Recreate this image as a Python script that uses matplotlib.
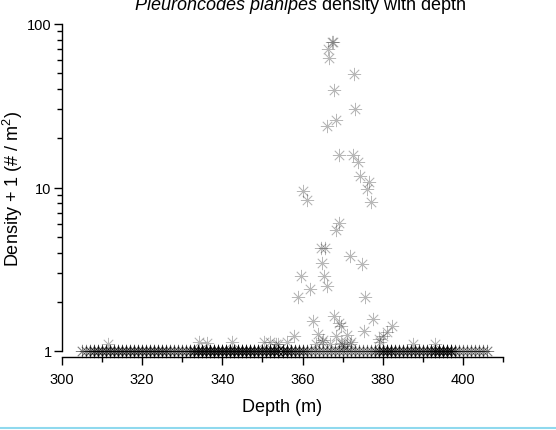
import numpy as np
import matplotlib
matplotlib.use("Agg")
import matplotlib.pyplot as plt
from matplotlib.ticker import MultipleLocator, LogLocator, FixedLocator, FixedFormatter, NullFormatter
from matplotlib.lines import Line2D

plt.rcParams['font.family'] = 'Liberation Sans'
plt.rcParams['mathtext.fontset'] = 'custom'
plt.rcParams['mathtext.rm'] = 'Liberation Sans'
plt.rcParams['mathtext.it'] = 'Liberation Sans:italic'

# tows with no crabs caught (density 0 -> plotted at 1), depth in m, and number of tows
zero_depth = [305, 306, 307, 308, 309, 310, 311, 312, 313, 314,
              315, 316, 317, 318, 319, 320, 321, 322, 323, 324,
              325, 326, 327, 328, 329, 330, 331, 332, 333, 334,
              335, 336, 337, 338, 339, 340, 341, 342, 343, 344,
              345, 346, 347, 348, 349, 350, 351, 352, 353, 354,
              355, 356, 357, 358, 359, 360, 361, 362, 363, 364,
              365, 366, 367, 368, 369, 370, 371, 372, 373, 374,
              375, 376, 377, 378, 379, 380, 381, 382, 383, 384,
              385, 386, 387, 388, 389, 390, 391, 392, 393, 394,
              395, 396, 397, 398, 399, 400, 401, 402, 403, 404,
              405, 406]
zero_count = [2, 2, 3, 4, 4, 4, 4, 4, 4, 4,
              4, 4, 4, 4, 4, 4, 4, 4, 4, 4,
              4, 4, 3, 3, 3, 3, 3, 4, 6, 7,
              7, 7, 7, 7, 7, 7, 7, 7, 7, 7,
              7, 7, 7, 6, 6, 6, 6, 7, 7, 7,
              7, 6, 5, 4, 4, 4, 3, 2, 2, 2,
              2, 2, 2, 2, 2, 2, 2, 2, 2, 2,
              2, 2, 2, 3, 4, 6, 6, 6, 4, 4,
              4, 4, 4, 4, 4, 4, 4, 5, 7, 7,
              7, 7, 7, 3, 2, 2, 2, 2, 2, 2,
              2, 2]

# tows with crabs caught
catch_depth = [367.3, 367.7, 366.3, 366.6, 372.9, 367.9, 373.2, 368.3, 366.0, 369.0,
               372.5, 373.9, 374.3, 376.6, 376.1, 377.1, 360.2, 361.0, 369.2, 368.3,
               364.6, 365.6, 371.8, 364.9, 374.9, 359.5, 365.4, 361.8, 366.0, 358.9,
               375.6, 367.9, 362.5, 369.2, 369.5, 377.6, 375.4, 382.2, 357.9, 356.2,
               363.9, 365.0, 368.3, 371.2, 372.0, 369.8, 370.3, 363.3, 366.8, 379.3,
               380.1, 379.0, 381.1, 311.5, 334.2, 336.2, 342.5, 350.4, 351.9, 353.5,
               354.0, 364.8, 369.7, 371.8, 387.6, 393.0]
catch_density = [77.3, 78.0, 70.0, 61.7, 49.4, 39.5, 30.2, 25.9, 23.7, 15.9,
                 15.9, 14.4, 11.8, 10.8, 9.8, 8.1, 9.55, 8.4, 6.04, 5.52,
                 4.27, 4.27, 3.79, 3.44, 3.4, 2.89, 2.86, 2.39, 2.51, 2.15,
                 2.15, 1.64, 1.52, 1.48, 1.43, 1.58, 1.33, 1.42, 1.24, 1.13,
                 1.27, 1.16, 1.24, 1.26, 1.13, 1.10, 1.08, 1.10, 1.10, 1.13,
                 1.24, 1.18, 1.30, 1.11, 1.14, 1.12, 1.13, 1.14, 1.14, 1.11,
                 1.10, 1.13, 1.12, 1.10, 1.10, 1.11]

depth = np.concatenate([np.repeat(zero_depth, zero_count), catch_depth])
dens = np.concatenate([np.ones(sum(zero_count)), catch_density])

fig = plt.figure(figsize=(5.56, 4.31), dpi=100)
ax = fig.add_axes([62 / 556, 1 - 352 / 431, 441 / 556, 327 / 431])

ax.plot(depth, dens, linestyle='none', marker=(8, 2, 0), markersize=9.5,
        color='black', alpha=0.28, markeredgewidth=0.55, clip_on=False)

ax.set_yscale('log')
ax.set_ylim(1, 100)
ax.set_xlim(300, 410)

ax.spines['top'].set_visible(False)
ax.spines['right'].set_visible(False)
ax.spines['bottom'].set_position(('outward', 4.3))
for s in ['left', 'bottom']:
    ax.spines[s].set_linewidth(1.0)

ax.xaxis.set_major_locator(FixedLocator([300, 320, 340, 360, 380, 400]))
ax.xaxis.set_minor_locator(MultipleLocator(10))
ax.yaxis.set_major_locator(FixedLocator([1, 10, 100]))
ax.yaxis.set_major_formatter(FixedFormatter(['1', '10', '100']))
ax.yaxis.set_minor_locator(LogLocator(base=10, subs=np.arange(2, 10)))
ax.yaxis.set_minor_formatter(NullFormatter())
ax.tick_params(which='major', direction='out', length=5.5, width=1.0, labelsize=10.5)
ax.tick_params(axis='y', which='major', pad=2)
ax.tick_params(axis='x', which='major', pad=5)
ax.tick_params(which='minor', direction='out', length=3.5, width=1.0)

ax.set_xlabel('Depth (m)', fontsize=13, labelpad=9)
ax.set_ylabel(r'Density + 1 (# / m$^{2}$)', fontsize=13)
ax.yaxis.set_label_coords(-0.083, 0.5)

fig.text(300 / 556, 1 - 9.5 / 431, r'$\mathit{Pleuroncodes\ planipes}$ density with depth',
         ha='center', va='baseline', fontsize=13)

fig.add_artist(Line2D([0, 1], [1 - 429 / 431] * 2, transform=fig.transFigure,
                      color='#8fd9ee', linewidth=1.5))

fig.savefig('out.png', dpi=100)
